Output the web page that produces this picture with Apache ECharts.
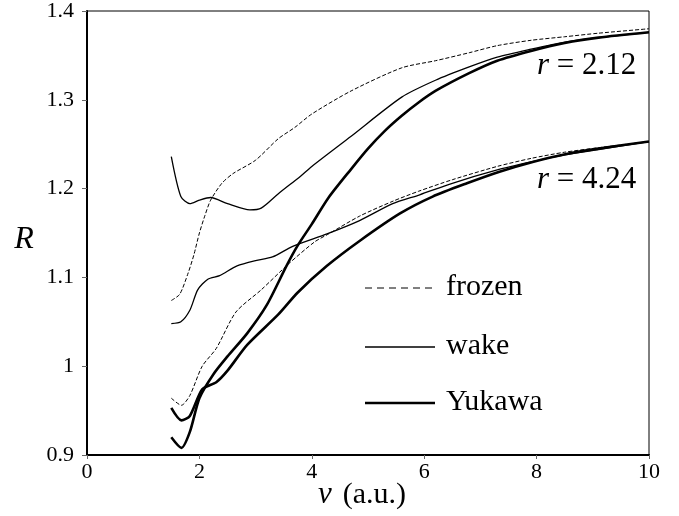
<!DOCTYPE html>
<html>
<head>
<meta charset="utf-8">
<script src="https://cdn.jsdelivr.net/npm/echarts@6/dist/echarts.min.js"></script>
<style>
html,body{margin:0;padding:0;background:#fff;}
#chart{width:679px;height:516px;}
</style>
</head>
<body>
<div id="chart"></div>
<script>
// ---- data (v in a.u., R) ----
var frozen212V = [1.5, 1.65, 1.8, 1.9, 2.0, 2.1, 2.2, 2.4, 2.6, 3.0, 3.4, 3.7, 4.0, 4.7, 5.6, 6.2, 6.8, 7.3, 7.9, 8.5, 9.1, 10];
var frozen212R = [1.074, 1.081, 1.105, 1.125, 1.15, 1.17, 1.187, 1.206, 1.217, 1.232, 1.256, 1.269, 1.284, 1.31, 1.336, 1.344, 1.353, 1.361, 1.367, 1.371, 1.375, 1.38];

var wake212V = [1.5, 1.67, 1.83, 2.0, 2.2, 2.5, 2.9, 3.1, 3.4, 3.8, 4.0, 4.7, 5.6, 6.2, 6.8, 7.3, 7.9, 8.5, 9.1, 10];
var wake212R = [1.236, 1.191, 1.183, 1.187, 1.19, 1.183, 1.176, 1.178, 1.194, 1.214, 1.225, 1.259, 1.303, 1.322, 1.337, 1.348, 1.357, 1.365, 1.37, 1.376];

var yukawa212V = [1.5, 1.68, 1.83, 2.0, 2.25, 2.5, 2.85, 3.2, 3.55, 3.75, 4.0, 4.3, 4.7, 5.0, 5.3, 5.6, 5.9, 6.2, 6.8, 7.3, 7.9, 8.5, 9.1, 10];
var yukawa212R = [0.92, 0.908, 0.926, 0.964, 0.991, 1.011, 1.037, 1.069, 1.113, 1.136, 1.16, 1.19, 1.222, 1.245, 1.265, 1.282, 1.297, 1.31, 1.33, 1.344, 1.355, 1.364, 1.37, 1.376];

var frozen424V = [1.5, 1.68, 1.83, 2.05, 2.3, 2.65, 3.1, 3.6, 4.05, 4.3, 4.85, 5.45, 5.9, 6.5, 7.3, 7.9, 8.5, 9.1, 10];
var frozen424R = [0.964, 0.956, 0.967, 1.0, 1.02, 1.061, 1.086, 1.116, 1.14, 1.149, 1.169, 1.186, 1.197, 1.21, 1.225, 1.234, 1.241, 1.246, 1.253];

var wake424V = [1.5, 1.67, 1.83, 1.97, 2.15, 2.36, 2.67, 3.0, 3.3, 3.66, 4.27, 4.85, 5.44, 5.92, 6.5, 7.3, 7.9, 8.5, 9.1, 10];
var wake424R = [1.048, 1.05, 1.063, 1.086, 1.098, 1.102, 1.113, 1.119, 1.123, 1.135, 1.149, 1.164, 1.183, 1.193, 1.206, 1.221, 1.23, 1.238, 1.244, 1.253];

var yukawa424V = [1.5, 1.68, 1.83, 2.05, 2.3, 2.5, 2.85, 3.4, 3.75, 4.27, 4.85, 5.57, 6.15, 6.76, 7.34, 7.93, 8.53, 9.1, 10];
var yukawa424R = [0.953, 0.939, 0.944, 0.974, 0.982, 0.995, 1.024, 1.058, 1.083, 1.113, 1.141, 1.172, 1.191, 1.206, 1.219, 1.23, 1.239, 1.245, 1.253];

var xTicks = [0, 2, 4, 6, 8, 10];
var yTickLabels = {'0.9':'0.9','1':'1','1.1':'1.1','1.2':'1.2','1.3':'1.3','1.4':'1.4'};

var legendNames = ['frozen', 'wake', 'Yukawa'];
var curveLabels = ['2.12', '4.24'];

function pairs(v, r) { return v.map(function (x, i) { return [x, r[i]]; }); }

var FONT = 'Liberation Serif';
var styles = {
  frozen: { color: '#000', width: 1, type: [4, 2] },
  wake:   { color: '#000', width: 1.3, type: 'solid' },
  Yukawa: { color: '#000', width: 2.6, type: 'solid' }
};

function mk(name, v, r) {
  return {
    type: 'line', name: name, data: pairs(v, r),
    showSymbol: false, smooth: 0.25, silent: true,
    lineStyle: styles[name], z: 3
  };
}

var chart = echarts.init(document.getElementById('chart'), null, { renderer: 'canvas' });

var legendY = [288, 347, 403];
var graphics = [];
legendNames.forEach(function (n, i) {
  var s = styles[n];
  graphics.push({
    type: 'line', shape: { x1: 365, y1: legendY[i], x2: 435, y2: legendY[i] },
    style: { stroke: '#000', lineWidth: s.width, lineDash: n === 'frozen' ? [7, 5] : null }
  });
  graphics.push({
    type: 'text', x: 446, y: legendY[i] - 1,
    style: { text: n, fontFamily: FONT, fontSize: 30, fill: '#000', verticalAlign: 'middle', align: 'left' }
  });
});
[[537, 66], [537, 180]].forEach(function (p, i) {
  graphics.push({
    type: 'text', x: p[0], y: p[1],
    style: {
      text: '{i|r}{n| = ' + curveLabels[i] + '}',
      verticalAlign: 'middle', align: 'left',
      rich: {
        i: { fontFamily: FONT, fontStyle: 'italic', fontSize: 31, fill: '#000' },
        n: { fontFamily: FONT, fontSize: 31, fill: '#000' }
      }
    }
  });
});
graphics.push({
  type: 'text', x: 24, y: 240,
  style: { text: 'R', fontFamily: FONT, fontStyle: 'italic', fontSize: 32, fill: '#000', verticalAlign: 'middle', align: 'center' }
});
graphics.push({
  type: 'text', x: 362, y: 495,
  style: {
    text: '{i|v}{s| }{n|(a.u.)}', verticalAlign: 'middle', align: 'center',
    rich: {
      i: { fontFamily: FONT, fontStyle: 'italic', fontSize: 31, fill: '#000' },
      s: { fontFamily: FONT, fontSize: 26, fill: '#000', width: 11 },
      n: { fontFamily: FONT, fontSize: 30, fill: '#000' }
    }
  }
});

chart.setOption({
  backgroundColor: '#fff',
  animation: false,
  grid: { left: 87, right: 30, top: 5, bottom: 61, show: true, borderColor: '#000', borderWidth: 1, backgroundColor: 'transparent' },
  xAxis: {
    type: 'value', min: 0, max: 10, interval: 2,
    axisLine: { show: true, lineStyle: { color: '#000', width: 2 } },
    axisTick: { show: true, length: 4, inside: false, lineStyle: { color: '#666', width: 1 } },
    axisLabel: { color: '#000', fontFamily: FONT, fontSize: 22, margin: 6,
      formatter: function (v) { return xTicks.indexOf(v) >= 0 ? String(v) : ''; } },
    splitLine: { show: false }
  },
  yAxis: {
    type: 'value', min: 0.9, max: 1.4, interval: 0.1,
    axisLine: { show: true, lineStyle: { color: '#000', width: 2 } },
    axisTick: { show: true, length: 5, inside: false, lineStyle: { color: '#666', width: 1 } },
    axisLabel: { color: '#000', fontFamily: FONT, fontSize: 22, margin: 13,
      formatter: function (v) { var k = String(Math.round(v * 10) / 10); return yTickLabels[k] || k; } },
    splitLine: { show: false }
  },
  series: [
    mk('frozen', frozen212V, frozen212R),
    mk('wake', wake212V, wake212R),
    mk('Yukawa', yukawa212V, yukawa212R),
    mk('frozen', frozen424V, frozen424R),
    mk('wake', wake424V, wake424R),
    mk('Yukawa', yukawa424V, yukawa424R)
  ],
  graphic: graphics
});
</script>
</body>
</html>
